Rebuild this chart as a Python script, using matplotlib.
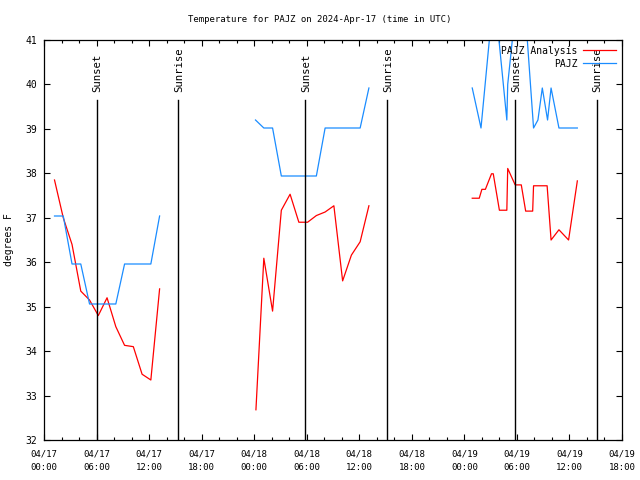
import matplotlib
matplotlib.use('Agg')
import matplotlib.pyplot as plt
import numpy as np

# hours since 2024-04-17 00:00 UTC
analysis_hours = [1.2, 2.2, 3.2, 4.2, 5.2, 6.2, 7.2, 8.2, 9.2, 10.2, 11.2, 12.2, 13.2,
                  24.2, 25.1, 26.1, 27.1, 28.1, 29.1, 30.1, 31.1, 32.1, 33.1, 34.1, 35.1, 36.1, 37.1,
                  48.9, 49.7, 50.0, 50.4, 51.1, 51.3, 52.0, 52.85, 52.95, 53.8, 54.5, 55.0, 55.8,
                  55.9, 57.45, 57.9, 58.8, 59.9, 60.9]
analysis_temps = [37.85, 37.0, 36.4, 35.35, 35.15, 34.8, 35.2, 34.55, 34.13, 34.1, 33.48, 33.35, 35.4,
                  32.68, 36.09, 34.9, 37.17, 37.53, 36.9, 36.9, 37.05, 37.13, 37.27, 35.58, 36.16, 36.46, 37.27,
                  37.44, 37.44, 37.64, 37.64, 37.99, 37.99, 37.17, 37.17, 38.11, 37.74, 37.74, 37.15, 37.15,
                  37.72, 37.72, 36.5, 36.73, 36.5, 37.83]

obs_hours = [1.2, 2.2, 3.2, 4.2, 5.2, 6.2, 7.2, 8.2, 9.2, 10.2, 11.2, 12.2, 13.2,
             24.15, 25.1, 26.1, 27.1, 28.1, 29.1, 30.1, 31.1, 32.1, 33.1, 34.1, 35.1, 36.1, 37.1,
             48.9, 49.9, 50.9, 51.9, 52.85, 52.95, 53.9, 54.9, 55.9, 56.4, 56.9, 57.5, 57.9, 58.8,
             59.9, 60.9]
obs_temps = [37.04, 37.04, 35.96, 35.96, 35.06, 35.06, 35.06, 35.06, 35.96, 35.96, 35.96, 35.96, 37.04,
             39.2, 39.02, 39.02, 37.94, 37.94, 37.94, 37.94, 37.94, 39.02, 39.02, 39.02, 39.02, 39.02, 39.92,
             39.92, 39.02, 41.1, 41.1, 39.2, 40.0, 41.8, 41.8, 39.02, 39.2, 39.92, 39.2, 39.92, 39.02,
             39.02, 39.02]

events = ['Sunset', 'Sunrise', 'Sunset', 'Sunrise', 'Sunset', 'Sunrise']
event_hours = [6.0, 15.3, 29.8, 39.2, 53.8, 63.1]

tick_labels = ['04/17\n00:00', '04/17\n06:00', '04/17\n12:00', '04/17\n18:00',
               '04/18\n00:00', '04/18\n06:00', '04/18\n12:00', '04/18\n18:00',
               '04/19\n00:00', '04/19\n06:00', '04/19\n12:00', '04/19\n18:00']

font = 'DejaVu Sans Mono'
fs = 6.5
plt.rcParams['font.family'] = font
plt.rcParams['font.size'] = fs


def segments(hours, temps, gap=3.0):
    # split series where data is missing so lines are not joined across gaps
    hours = np.asarray(hours)
    temps = np.asarray(temps)
    cuts = np.where(np.diff(hours) > gap)[0] + 1
    return zip(np.split(hours, cuts), np.split(temps, cuts))


fig = plt.figure(figsize=(6.4, 4.8), dpi=100)
ax = fig.add_axes([44 / 640, 40 / 480, 578 / 640, 400 / 480])

for i, (h, t) in enumerate(segments(analysis_hours, analysis_temps)):
    ax.plot(h, t, color='#ff0000', lw=0.9, label='PAJZ Analysis' if i == 0 else None)
for i, (h, t) in enumerate(segments(obs_hours, obs_temps)):
    ax.plot(h, t, color='#1a8cff', lw=0.9, label='PAJZ' if i == 0 else None)

for name, h in zip(events, event_hours):
    ax.axvline(h, ymin=0, ymax=0.85, color='black', lw=1.0)
    ax.text(h + 0.1, 0.87, name, rotation=90, ha='center', va='bottom',
            transform=ax.get_xaxis_transform(), fontsize=7.7)

ax.set_xlim(0, 66)
ax.set_ylim(32, 41)
ax.set_xticks(np.arange(0, 67, 6))
ax.set_xticklabels(tick_labels, linespacing=1.75)
ax.set_xticks(np.arange(0, 67, 2), minor=True)
ax.set_yticks(np.arange(32, 42, 1))
ax.tick_params(which='both', direction='in', top=True, right=True, width=0.8)
ax.tick_params(which='major', length=4.5, pad=5)
ax.tick_params(axis='x', which='major', pad=6.5)
ax.tick_params(which='minor', length=2.5)
ax.tick_params(axis='y', labelsize=7)
for s in ax.spines.values():
    s.set_linewidth(0.9)

fig.text(0.5, 1 - 20 / 480, 'Temperature for PAJZ on 2024-Apr-17 (time in UTC)',
         ha='center', va='center', fontsize=fs)
ax.set_ylabel('degrees F', labelpad=8, fontsize=7)

ax.legend(loc='upper right', frameon=False, markerfirst=False, handlelength=3.4,
          labelspacing=0.3, borderaxespad=0.2, fontsize=fs + 0.5, handletextpad=0.6)

fig.savefig('out.png', dpi=100)
